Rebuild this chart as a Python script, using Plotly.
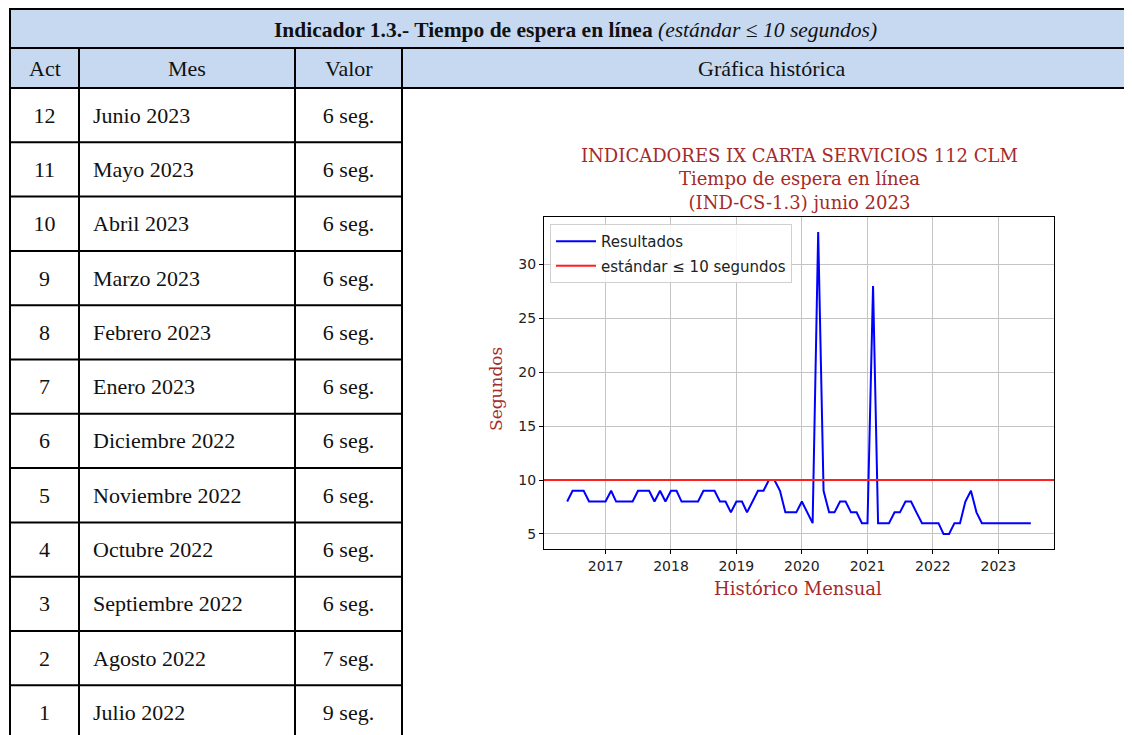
import pandas as pd
import plotly.graph_objects as go

# --- datos de la tabla (últimos 12 meses) ---
act = [12, 11, 10, 9, 8, 7, 6, 5, 4, 3, 2, 1]
meses = ["Junio 2023", "Mayo 2023", "Abril 2023", "Marzo 2023", "Febrero 2023", "Enero 2023",
         "Diciembre 2022", "Noviembre 2022", "Octubre 2022", "Septiembre 2022", "Agosto 2022",
         "Julio 2022"]
valores = [6, 6, 6, 6, 6, 6, 6, 6, 6, 6, 7, 9]

# --- histórico mensual (segundos), primer punto dibujado en junio 2016 ---
inicio_historico = "2016-06-01"
tiempo_espera = [
    8, 9, 9, 9, 8, 8, 8,
    8, 9, 8, 8, 8, 8, 9, 9, 9, 8, 9, 8,
    9, 9, 8, 8, 8, 8, 9, 9, 9, 8, 8, 7,
    8, 8, 7, 8, 9, 9, 10, 10, 9, 7, 7, 7,
    8, 7, 6, 33, 9, 7, 7, 8, 8, 7, 7, 6,
    6, 28, 6, 6, 6, 7, 7, 8, 8, 7, 6, 6,
    6, 6, 5, 5, 6, 6, 8, 9, 7, 6, 6, 6,
    6, 6, 6, 6, 6, 6, 6,
]
estandar = 10

W, H = 1132, 735
OFF = 8  # the page puts the figure 8px in from the top-left corner
SERIF = "Liberation Serif"
MPL_RED = "#a52a2a"
HEADER_BG = "#c6d9f1"
TXT = "#111"

fechas = pd.date_range(inicio_historico, periods=len(tiempo_espera), freq="MS")
span = fechas[-1] - fechas[0]
x_range = [fechas[0] - span * 0.05, fechas[-1] + span * 0.05]
y_span = max(tiempo_espera) - min(tiempo_espera)
y_range = [min(tiempo_espera) - 0.05 * y_span, max(tiempo_espera) + 0.05 * y_span]

# table geometry (page pixels)
col_lines = [10, 79, 295, 402]
top, head_mid, head_bot = 9, 48, 88
row_h = 54.3
row_centers = [head_bot + (i + 0.5) * row_h + 2 for i in range(len(act))]


def px_x(x):
    return (x - OFF) / W


def px_y(y):
    return 1 - (y - OFF) / H


fig = go.Figure()

# chart traces
fig.add_trace(go.Scatter(
    x=fechas, y=tiempo_espera, mode="lines", name="Resultados",
    line=dict(color="#0000ff", width=2), legendgroup="a",
))
fig.add_trace(go.Scatter(
    x=x_range, y=[estandar, estandar], mode="lines", name="estándar ≤ 10 segundos",
    line=dict(color="#ff2020", width=2), legendgroup="b",
))

# table text
cell_font = dict(family=SERIF, size=22, color=TXT)
fig.add_trace(go.Scatter(
    x=[(col_lines[0] + col_lines[1]) / 2] * len(act), y=row_centers, text=[str(a) for a in act],
    mode="text", textposition="middle center", xaxis="x2", yaxis="y2",
    textfont=cell_font, showlegend=False, hoverinfo="skip",
))
fig.add_trace(go.Scatter(
    x=[col_lines[1] + 14] * len(meses), y=row_centers, text=meses,
    mode="text", textposition="middle right", xaxis="x2", yaxis="y2",
    textfont=cell_font, showlegend=False, hoverinfo="skip",
))
fig.add_trace(go.Scatter(
    x=[(col_lines[2] + col_lines[3]) / 2] * len(valores), y=row_centers,
    text=[f"{v} seg." for v in valores],
    mode="text", textposition="middle center", xaxis="x2", yaxis="y2",
    textfont=cell_font, showlegend=False, hoverinfo="skip",
))

shapes = []
shapes.append(dict(type="rect", xref="x2", yref="y2", x0=col_lines[0], x1=W + 20, y0=top, y1=head_bot,
                   fillcolor=HEADER_BG, line=dict(width=0), layer="below"))
line_style = dict(color="black", width=2)
for y in [top, head_mid, head_bot]:
    shapes.append(dict(type="line", xref="x2", yref="y2", x0=col_lines[0] - 1, x1=W + 20, y0=y, y1=y,
                       line=line_style))
for i in range(1, len(act) + 1):
    y = head_bot + i * row_h
    shapes.append(dict(type="line", xref="x2", yref="y2", x0=col_lines[0], x1=col_lines[3], y0=y, y1=y,
                       line=line_style))
for j, x in enumerate(col_lines):
    shapes.append(dict(type="line", xref="x2", yref="y2", x0=x, x1=x,
                       y0=top if j == 0 else head_mid, y1=H + 20, line=line_style))

head_y = (head_mid + head_bot) / 2
annotations = [
    dict(xref="x2", yref="y2", x=575, y=(top + head_mid) / 2 + 1, showarrow=False,
         text="<b>Indicador 1.3.- Tiempo de espera en línea</b> <i>(estándar ≤ 10 segundos)</i>",
         font=dict(family=SERIF, size=21.5, color=TXT)),
    dict(xref="x2", yref="y2", x=(col_lines[0] + col_lines[1]) / 2, y=head_y,
         text="Act", showarrow=False, font=cell_font),
    dict(xref="x2", yref="y2", x=(col_lines[1] + col_lines[2]) / 2, y=head_y,
         text="Mes", showarrow=False, font=cell_font),
    dict(xref="x2", yref="y2", x=(col_lines[2] + col_lines[3]) / 2, y=head_y,
         text="Valor", showarrow=False, font=cell_font),
    dict(xref="x2", yref="y2", x=771, y=head_y,
         text="Gráfica histórica", showarrow=False, font=cell_font),
    # chart titles
    dict(xref="x2", yref="y2", x=799, y=179, showarrow=False,
         text="INDICADORES IX CARTA SERVICIOS 112 CLM<br>Tiempo de espera en línea<br>(IND-CS-1.3) junio 2023",
         font=dict(family="DejaVu Serif", size=18, color=MPL_RED)),
    dict(xref="x2", yref="y2", x=496, y=389, showarrow=False, textangle=-90,
         text="Segundos", font=dict(family="DejaVu Serif", size=17, color=MPL_RED)),
    dict(xref="x2", yref="y2", x=798, y=588, showarrow=False,
         text="Histórico Mensual", font=dict(family="DejaVu Serif", size=18, color=MPL_RED)),
]

axis_common = dict(
    showline=True, linecolor="black", linewidth=1.2, mirror=True,
    ticks="outside", ticklen=4, tickcolor="black", tickwidth=1,
    showgrid=True, gridcolor="#c4c4c4", gridwidth=1, zeroline=False,
    tickfont=dict(family="DejaVu Sans", size=14, color="#222"),
)

fig.update_layout(
    width=W, height=H,
    margin=dict(l=0, r=0, t=0, b=0),
    paper_bgcolor="white", plot_bgcolor="rgba(0,0,0,0)",
    shapes=shapes, annotations=annotations,
    xaxis=dict(domain=[px_x(544), px_x(1054)], range=x_range, type="date",
               dtick="M12", tick0="2017-01-01", tickformat="%Y", anchor="y", **axis_common),
    yaxis=dict(domain=[px_y(549), px_y(217)], range=y_range, dtick=5, tick0=5,
               anchor="x", **axis_common),
    xaxis2=dict(domain=[0, 1], range=[OFF, W + OFF], visible=False, fixedrange=True, anchor="y2"),
    yaxis2=dict(domain=[0, 1], range=[H + OFF, OFF], visible=False, fixedrange=True, anchor="x2"),
    showlegend=True,
    legend=dict(x=px_x(550), y=px_y(224), xanchor="left", yanchor="top",
                bgcolor="rgba(255,255,255,0.85)", bordercolor="#d0d0d0", borderwidth=1,
                font=dict(family="DejaVu Sans", size=15, color="#222"),
                traceorder="grouped", tracegroupgap=2, itemwidth=40),
)

fig.write_html("out.html")
